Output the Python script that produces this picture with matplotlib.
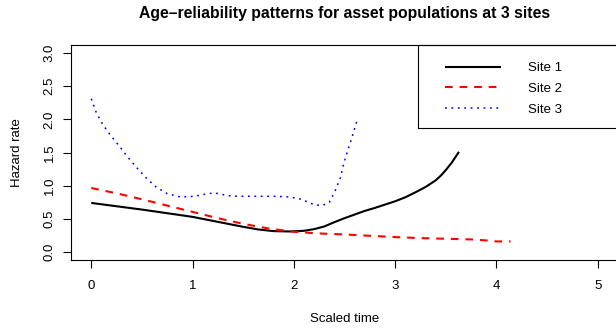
import matplotlib
matplotlib.use("Agg")
import matplotlib.pyplot as plt
from matplotlib.patches import Rectangle

plt.rcParams['font.family'] = ['Liberation Sans', 'DejaVu Sans']

# hazard curves
site1_t = [0, 0.25, 0.5, 0.75, 1.0, 1.25, 1.5, 1.65, 1.8, 1.95, 2.1, 2.2, 2.3, 2.4,
           2.5, 2.6, 2.7, 2.8, 2.9, 3.0, 3.1, 3.2, 3.3, 3.4, 3.45, 3.5, 3.56, 3.63]
site1_h = [0.74, 0.69, 0.64, 0.585, 0.53, 0.455, 0.38, 0.34, 0.315, 0.31, 0.32, 0.345, 0.385, 0.45,
           0.51, 0.565, 0.62, 0.665, 0.715, 0.765, 0.825, 0.90, 0.98, 1.08, 1.15, 1.235, 1.35, 1.51]

site2_t = [0, 0.25, 0.5, 0.75, 1.0, 1.25, 1.5, 1.75, 2.0, 2.25, 2.5, 2.75, 3.0,
           3.25, 3.5, 3.75, 3.9, 4.0, 4.14]
site2_h = [0.965, 0.885, 0.795, 0.70, 0.605, 0.51, 0.425, 0.355, 0.305, 0.28, 0.265, 0.245, 0.225,
           0.21, 0.20, 0.19, 0.175, 0.16, 0.16]

site3_t = [0, 0.05, 0.11, 0.19, 0.28, 0.36, 0.45, 0.54, 0.64, 0.75, 0.88, 1.02, 1.15, 1.22,
           1.35, 1.45, 1.6, 1.82, 1.96, 2.09, 2.15, 2.22, 2.28, 2.35, 2.41, 2.46, 2.49,
           2.53, 2.57, 2.61, 2.63]
site3_h = [2.31, 2.10, 1.93, 1.76, 1.59, 1.43, 1.27, 1.12, 0.98, 0.88, 0.83, 0.84, 0.88, 0.89,
           0.85, 0.84, 0.84, 0.84, 0.83, 0.79, 0.74, 0.71, 0.70, 0.75, 0.93, 1.12, 1.32,
           1.52, 1.71, 1.91, 2.02]

labels = ["Site 1", "Site 2", "Site 3"]
x_ticks = [0, 1, 2, 3, 4, 5]
y_ticks = [0.0, 0.5, 1.0, 1.5, 2.0, 2.5, 3.0]

fig = plt.figure(figsize=(6.16, 3.28), dpi=100)
ax = fig.add_axes([71 / 616, 68 / 328, 547 / 616, 215 / 328])

l1, = ax.plot(site1_t, site1_h, color="black", lw=1.5, solid_capstyle="butt")
l2, = ax.plot(site2_t, site2_h, color="red", lw=1.5, linestyle=(0, (3.7, 3.3)), dash_capstyle="butt")
l3, = ax.plot(site3_t, site3_h, color="blue", lw=1.1, linestyle=(0, (1.2, 3.0)), dash_capstyle="butt")

ax.set_xlim(-0.2, 5.2)
ax.set_ylim(-0.12, 3.12)
ax.set_xticks(x_ticks)
ax.set_xticklabels([str(v) for v in x_ticks])
ax.set_yticks(y_ticks)
ax.set_yticklabels([f"{v:.1f}" for v in y_ticks], rotation=90, va="center")

for s in ax.spines.values():
    s.set_linewidth(0.8)
ax.tick_params(axis="both", direction="out", length=5.8, width=0.8, labelsize=9.5)
ax.tick_params(axis="x", pad=8.6)
ax.tick_params(axis="y", pad=5.2)

# legend frame, R style
ax.add_patch(Rectangle((347 / 547, 132 / 215), 0.4, 83 / 215, transform=ax.transAxes,
                       fill=False, edgecolor="black", lw=0.8, clip_on=False))
ax.legend([l1, l2, l3], labels, loc="upper left", bbox_to_anchor=(374 / 547, 198 / 215),
          frameon=False, borderpad=0, borderaxespad=0, fontsize=9.5,
          handlelength=4.24, handletextpad=2.05, labelspacing=0.64)

fig.text(344.5 / 616, 1 - 18.3 / 328, "Age\u2013reliability patterns for asset populations at 3 sites",
         ha="center", va="baseline", fontsize=11.3, fontweight="bold")
fig.text(344.5 / 616, (328 - 322.3) / 328, "Scaled time", ha="center", va="baseline", fontsize=9.5)
fig.text(20.3 / 616, 1 - 152.5 / 328, "Hazard rate", rotation=90, rotation_mode="anchor",
         ha="center", va="baseline", fontsize=9.5)

fig.savefig("out.png", dpi=100)
